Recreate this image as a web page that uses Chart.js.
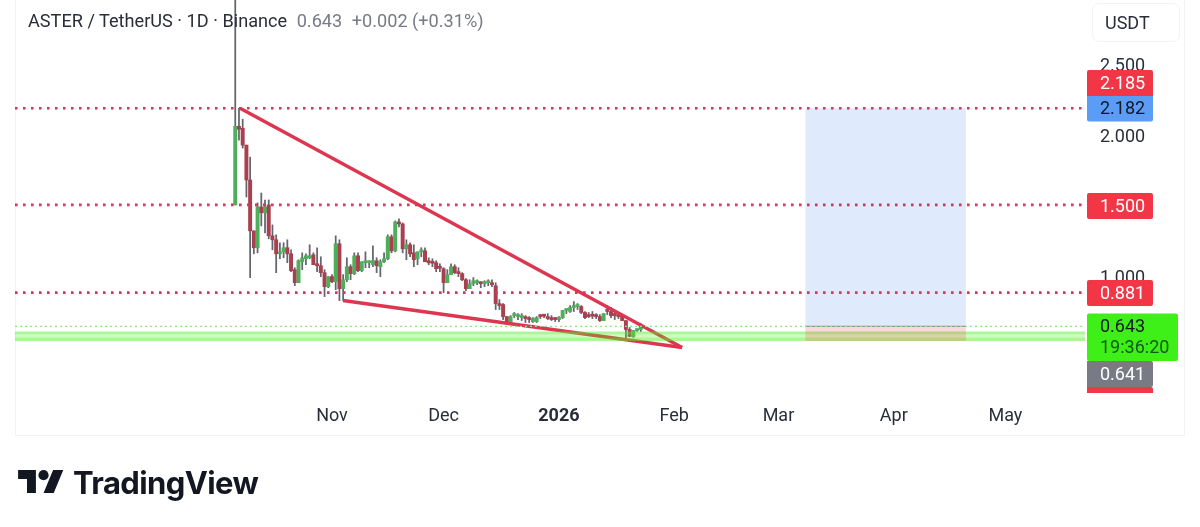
<!DOCTYPE html>
<html><head><meta charset="utf-8">
<style>
html,body{margin:0;padding:0;background:#fff;width:1200px;height:527px;overflow:hidden;font-family:Roboto,sans-serif}
#wrap{position:relative;width:1200px;height:527px}
canvas{position:absolute;left:0;top:0}
#frame{position:absolute;left:15px;top:-2px;width:1170px;height:438px;border:1px solid #f2f3f5;box-sizing:border-box}
#title{position:absolute;left:28px;top:10px;font-size:18.15px;line-height:22px;color:#2a2e39;white-space:nowrap}
#title .v{color:#787b86;margin-left:5px}
#title .w{color:#787b86;margin-left:5px}
#unit{position:absolute;left:1092px;top:3px;width:88px;height:39px;border:1px solid #f2f3f5;border-radius:7px;box-sizing:border-box;font-size:18px;line-height:37px;color:#2a2e39;text-indent:12px}
#logo{position:absolute;left:18px;top:465px}
#brand{position:absolute;left:73px;top:464px;font-family:Inter,sans-serif;font-weight:700;font-size:31px;line-height:38px;color:#131722;letter-spacing:-.6px}
</style></head><body>
<div id="wrap">
<div id="frame"></div>
<canvas id="c" width="1200" height="527"></canvas>
<div id="title">ASTER / TetherUS · 1D · Binance <span class="v">0.643</span> <span class="w">+0.002 (+0.31%)</span></div>
<div id="unit">USDT</div>
<svg id="logo" width="46" height="28" viewBox="0 0 36 22"><path fill="#131722" d="M14 22H7V11H0V4h14v18zM28 22h-8l7.5-18h8L28 22z"/><circle fill="#131722" cx="20" cy="8" r="4"/></svg>
<div id="brand">TradingView</div>
</div>
<script src="https://cdn.jsdelivr.net/npm/chart.js@4"></script>
<script>
// Day numbers count from 1 Nov 2025 = 0
const firstCandleDay = -26;
const opens = [1.500,2.055,2.041,1.922,1.676,1.317,1.198,1.486,1.444,1.500,1.282,1.254,1.155,1.169,1.198,1.155,1.043,0.951,1.099,1.120,1.127,1.148,1.078,1.071,1.022,0.923,0.994,0.958,1.226,0.909,0.972,1.064,1.015,1.141,1.036,1.092,1.092,1.078,1.106,1.064,1.099,1.120,1.275,1.176,1.380,1.366,1.190,1.219,1.162,1.120,1.169,1.176,1.099,1.092,1.092,1.057,1.050,0.951,1.008,1.064,1.022,1.015,0.972,0.909,0.944,0.951,0.951,0.944,0.951,0.951,0.930,0.804,0.797,0.712,0.663,0.719,0.712,0.705,0.705,0.698,0.677,0.677,0.719,0.719,0.712,0.705,0.698,0.691,0.705,0.755,0.748,0.776,0.783,0.783,0.741,0.719,0.719,0.719,0.712,0.684,0.755,0.748,0.726,0.719,0.719,0.684,0.621,0.572,0.614,0.621];
const highs = [3.400,2.182,2.105,1.922,1.837,1.317,1.514,1.584,1.535,1.535,1.359,1.289,1.233,1.233,1.254,1.183,1.057,1.113,1.162,1.155,1.219,1.162,1.198,1.134,1.043,0.994,1.008,1.282,1.254,1.008,1.127,1.078,1.162,1.162,1.099,1.169,1.106,1.212,1.127,1.113,1.162,1.289,1.289,1.387,1.401,1.373,1.254,1.233,1.219,1.169,1.198,1.198,1.127,1.120,1.106,1.085,1.057,1.043,1.085,1.078,1.057,1.022,0.980,0.972,0.987,0.972,0.958,0.965,0.972,0.972,0.951,0.832,0.804,0.712,0.719,0.741,0.733,0.733,0.719,0.712,0.705,0.712,0.726,0.726,0.733,0.719,0.705,0.712,0.755,0.769,0.790,0.818,0.804,0.790,0.748,0.741,0.748,0.733,0.726,0.733,0.790,0.776,0.748,0.733,0.726,0.684,0.635,0.614,0.621,0.664];
const lows = [1.500,1.957,1.901,1.556,0.987,1.155,1.162,1.352,1.303,1.261,1.183,1.022,1.120,1.127,1.092,1.029,0.930,0.951,1.043,1.078,1.120,1.078,1.029,0.994,0.853,0.916,0.951,0.902,0.825,0.825,0.958,0.972,1.008,1.029,1.029,1.057,1.057,1.064,1.022,0.994,1.092,1.113,1.162,1.169,1.345,1.162,1.113,1.134,1.064,1.078,1.134,1.099,1.078,1.064,1.029,1.029,0.881,0.951,1.008,1.015,0.994,0.965,0.895,0.909,0.930,0.937,0.916,0.923,0.930,0.923,0.762,0.762,0.691,0.656,0.656,0.705,0.691,0.684,0.670,0.670,0.670,0.670,0.698,0.705,0.691,0.684,0.677,0.677,0.698,0.733,0.741,0.748,0.762,0.733,0.698,0.705,0.698,0.698,0.677,0.684,0.726,0.705,0.691,0.698,0.684,0.551,0.572,0.565,0.607,0.607];
const closes = [2.055,2.034,1.922,1.676,1.317,1.198,1.486,1.444,1.486,1.282,1.254,1.155,1.169,1.198,1.155,1.036,0.951,1.106,1.127,1.141,1.141,1.078,1.071,1.022,0.923,0.994,0.958,1.226,0.909,0.972,1.064,1.015,1.141,1.036,1.099,1.099,1.099,1.106,1.071,1.099,1.120,1.275,1.176,1.380,1.366,1.190,1.219,1.155,1.113,1.169,1.176,1.099,1.092,1.088,1.050,1.053,0.951,1.008,1.064,1.022,1.015,0.972,0.909,0.944,0.965,0.958,0.944,0.951,0.958,0.937,0.804,0.790,0.712,0.663,0.712,0.726,0.719,0.712,0.698,0.691,0.698,0.705,0.712,0.715,0.698,0.691,0.691,0.705,0.755,0.762,0.776,0.783,0.790,0.741,0.705,0.712,0.715,0.712,0.684,0.733,0.748,0.719,0.719,0.712,0.684,0.621,0.572,0.614,0.621,0.643];

const monthDays = [0,30,61,92,120,151,181];
const monthLabels = ["Nov","Dec","2026","Feb","Mar","Apr","May"];
const yTicks = [1.0,1.5,2.0,2.5];

const levelValues = [2.182,1.500,0.881];
const lastPrice = 0.643;
const zoneBands = [[0.607,0.585],[0.585,0.565],[0.565,0.540]];
const upperTrendDays = [-24.7,94.1], upperTrendValues = [2.182,0.494];
const lowerTrendDays = [2.96,94.1], lowerTrendValues = [0.825,0.494];
const positionDays = [127.2,170.4];
const positionTarget = 2.182, positionEntry = 0.643, positionStop = 0.540;

const tagTexts = ["2.185","2.182","1.500","0.881","0.643","19:36:20","0.641",""];

const xMin = -85.2, xMax = 202.4, yMin = 0.1587, yMax = 2.946;
const GREEN = "#4fae5a", RED = "#a9404f", WICK = "#63666e", LEVEL = "#d6355a", TREND = "#dc3650";

const days = opens.map((_, i) => firstCandleDay + i);
const span = [xMin, xMax];
const seg = (xs, ys) => xs.map((x, i) => ({x, y: ys[i]}));
const flat = (xs, y) => xs.map(x => ({x, y}));

const base = {type:'line', pointRadius:0, pointHoverRadius:0, tension:0};
const datasets = [];

levelValues.forEach(v=>datasets.push({...base, data:flat(span, v), borderColor:LEVEL, borderWidth:2.6, borderDash:[2.6,5.4], fill:false, order:0.5}));
datasets.push({...base, data:flat(positionDays, positionTarget), borderWidth:0, fill:{value:positionEntry}, backgroundColor:'#dfeafc', order:1});
datasets.push({...base, data:flat(positionDays, positionEntry), borderWidth:0, fill:{value:positionStop}, backgroundColor:'rgba(242,54,69,.2)', order:1});
datasets.push({...base, data:flat(positionDays, positionEntry), borderWidth:1.2, borderColor:'rgba(120,123,134,.75)', fill:false, order:0.9});
datasets.push({...base, data:flat(span, lastPrice), borderWidth:1.2, borderColor:'#8fe57c', borderDash:[2,3], fill:false, order:0.8});
const bandCols = ['rgba(90,235,50,.5)','rgba(90,235,50,.28)','rgba(90,235,50,.5)'];
zoneBands.forEach((b,i)=>datasets.push({...base, data:flat(span, b[0]), borderWidth:0, fill:{value:b[1]}, backgroundColor:bandCols[i], order:2}));
datasets.push({...base, data:seg(upperTrendDays, upperTrendValues), borderColor:TREND, borderWidth:3.5, fill:false, order:3});
datasets.push({...base, data:seg(lowerTrendDays, lowerTrendValues), borderColor:TREND, borderWidth:3.5, fill:false, order:3});
// candles: bodies over wicks
datasets.push({type:'bar', grouped:false, data:days.map((x,i)=>({x, y:[Math.min(opens[i],closes[i]), Math.max(opens[i],closes[i])]})),
  backgroundColor:days.map((_,i)=>closes[i]>=opens[i]?GREEN:RED), barThickness:3.3, minBarLength:2, order:4});
datasets.push({type:'bar', grouped:false, data:days.map((x,i)=>({x, y:[lows[i], highs[i]]})),
  backgroundColor:WICK, barThickness:1.1, order:5});

const tagStyles = [
 {x:1087,y:70,w:66,h:26,bg:'#f23645',fg:'#fff',t:0,r:[2,2,0,0]},
 {x:1087,y:96,w:66,h:25.5,bg:'#5b9cf6',fg:'#131722',t:1,r:[0,0,2,2]},
 {x:1087,y:193,w:66,h:26,bg:'#f23645',fg:'#fff',t:2,r:2},
 {x:1087,y:280,w:66,h:26,bg:'#f23645',fg:'#fff',t:3,r:2},
 {x:1087,y:313.5,w:91,h:47.5,bg:'#3ff018',fg:'#131722',t:4,t2:5,r:2},
 {x:1087,y:361,w:66,h:26,bg:'#787b86',fg:'#fff',t:6,r:[0,2,2,0]},
 {x:1087,y:387,w:66,h:6,bg:'#f23645',fg:'#fff',t:7,r:[0,2,0,0]}
];
const tagsPlugin = {id:'tags', afterDraw(chart){
  const c = chart.ctx; c.save();
  c.font = '18px Roboto'; c.textBaseline='middle'; c.textAlign='left';
  tagStyles.forEach(s=>{
    c.fillStyle=s.bg; c.beginPath(); c.roundRect(s.x,s.y,s.w,s.h,s.r); c.fill();
    c.fillStyle=s.fg;
    if(s.t2!==undefined){ c.fillText(tagTexts[s.t],s.x+13,s.y+13.5); c.fillStyle='#0b5a12'; c.fillText(tagTexts[s.t2],s.x+13,s.y+35); }
    else if(tagTexts[s.t]) c.fillText(tagTexts[s.t],s.x+13,s.y+s.h/2+1);
  });
  c.restore();
}};

new Chart(document.getElementById('c'),{
  type:'bar',
  data:{datasets},
  plugins:[tagsPlugin],
  options:{
    responsive:false, animation:false, devicePixelRatio:1,
    layout:{padding:{left:15,right:0,top:0,bottom:0}},
    plugins:{legend:{display:false},tooltip:{enabled:false},title:{display:false}},
    scales:{
      x:{type:'linear',position:'bottom',offset:false,min:xMin,max:xMax,
        grid:{display:false},border:{display:false},
        afterBuildTicks(s){s.ticks=monthDays.map(v=>({value:v}));},
        afterFit(s){s.height=132;s.paddingLeft=0;s.paddingRight=0;},
        ticks:{autoSkip:false,maxRotation:0,minRotation:0,padding:3,color:'#2a2e39',
          font:ctx=>({family:'Roboto',size:18,weight:(ctx.tick&&ctx.tick.value===61)?'bold':'normal'}),
          callback:v=>monthLabels[monthDays.indexOf(v)]}},
      y:{type:'linear',position:'right',min:yMin,max:yMax,
        grid:{display:false,drawTicks:false},border:{display:false},
        afterBuildTicks(s){s.ticks=yTicks.map(v=>({value:v}));},
        afterFit(s){s.width=115;s.paddingTop=0;s.paddingBottom=0;},
        ticks:{autoSkip:false,padding:15,labelOffset:3,color:'#2a2e39',font:{family:'Roboto',size:18},
          callback:v=>v.toFixed(3)}}
    }
  }
});
</script>
</body></html>
